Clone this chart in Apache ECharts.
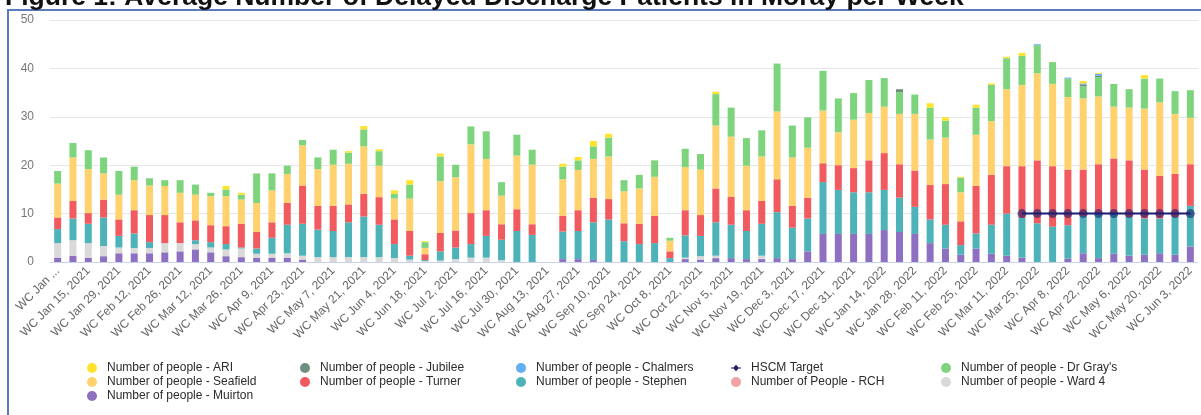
<!DOCTYPE html>
<html>
<head>
<meta charset="utf-8">
<script src="https://cdn.jsdelivr.net/npm/echarts@6/dist/echarts.min.js"></script>
<style>
html,body{margin:0;padding:0;background:#fff;}
#chart{width:1201px;height:415px;}
</style>
</head>
<body>
<div id="chart"></div>
<script>
const categories = [
"WC Jan 1, 2021","WC Jan 8, 2021","WC Jan 15, 2021","WC Jan 22, 2021","WC Jan 29, 2021",
"WC Feb 5, 2021","WC Feb 12, 2021","WC Feb 19, 2021","WC Feb 26, 2021",
"WC Mar 5, 2021","WC Mar 12, 2021","WC Mar 19, 2021","WC Mar 26, 2021",
"WC Apr 2, 2021","WC Apr 9, 2021","WC Apr 16, 2021","WC Apr 23, 2021","WC Apr 30, 2021",
"WC May 7, 2021","WC May 14, 2021","WC May 21, 2021","WC May 28, 2021",
"WC Jun 4, 2021","WC Jun 11, 2021","WC Jun 18, 2021","WC Jun 25, 2021",
"WC Jul 2, 2021","WC Jul 9, 2021","WC Jul 16, 2021","WC Jul 23, 2021","WC Jul 30, 2021",
"WC Aug 6, 2021","WC Aug 13, 2021","WC Aug 20, 2021","WC Aug 27, 2021",
"WC Sep 3, 2021","WC Sep 10, 2021","WC Sep 17, 2021","WC Sep 24, 2021",
"WC Oct 1, 2021","WC Oct 8, 2021","WC Oct 15, 2021","WC Oct 22, 2021","WC Oct 29, 2021",
"WC Nov 5, 2021","WC Nov 12, 2021","WC Nov 19, 2021","WC Nov 26, 2021",
"WC Dec 3, 2021","WC Dec 10, 2021","WC Dec 17, 2021","WC Dec 24, 2021","WC Dec 31, 2021",
"WC Jan 7, 2022","WC Jan 14, 2022","WC Jan 21, 2022","WC Jan 28, 2022",
"WC Feb 4, 2022","WC Feb 11, 2022","WC Feb 18, 2022","WC Feb 25, 2022",
"WC Mar 4, 2022","WC Mar 11, 2022","WC Mar 18, 2022","WC Mar 25, 2022",
"WC Apr 1, 2022","WC Apr 8, 2022","WC Apr 15, 2022","WC Apr 22, 2022","WC Apr 29, 2022",
"WC May 6, 2022","WC May 13, 2022","WC May 20, 2022","WC May 27, 2022",
"WC Jun 3, 2022"
];

const muirton = [0.9,1.3,0.9,1.2,1.8,1.8,1.8,2.0,2.2,2.6,2.0,1.2,1.0,0.9,0.9,0.9,0.5,0,0,0,0,0,0,0,0,0,0,0,0,0,0,0,0,0.6,0.6,0.4,0,0,0,0,0,0.6,0.5,0.8,0.8,0.6,0.6,0.8,0.6,2.2,5.8,5.8,5.8,5.8,6.6,6.2,5.8,3.9,2.8,1.5,2.8,1.7,1.3,0.9,0,0,0.7,1.8,0.8,1.7,1.3,1.5,1.8,1.5,3.2];
const ward4 = [3.0,3.2,3.0,2.1,1.2,1.1,1.1,1.9,1.7,1.1,1.0,1.4,1.8,0.8,0.8,0.9,0.8,1.0,1.0,1.0,1.0,1.0,0.8,0.5,0.2,0.3,0.6,0.9,0.9,0.4,0,0,0,0,0,0,0,0,0,0,0,0.3,0.7,0.5,0,0,0.7,0,0,0,0,0,0,0,0,0,0,0,0,0,0,0,0,0,0,0,0,0,0,0,0,0,0,0,0];
const stephen = [2.9,4.5,4.0,5.9,2.4,3.0,1.2,0,0,0.8,1.1,1.1,0.2,1.1,3.3,5.9,6.6,5.7,5.4,7.2,8.4,6.7,2.9,0.8,0.2,1.9,2.4,2.8,4.5,4.2,6.4,5.6,0,5.7,5.8,7.8,8.8,4.3,3.7,3.9,0.8,4.6,4.2,6.9,6.9,5.8,6.6,9.5,6.5,6.8,10.7,9.1,8.6,8.6,8.3,7.1,5.6,4.9,4.9,2.0,3.1,6.0,8.7,8.2,8.0,7.3,6.9,7.7,9.2,8.3,8.0,7.5,7.2,7.8,8.4];
const turner = [2.4,3.6,2.2,3.7,3.4,4.8,5.6,5.8,4.3,4.1,3.5,3.7,4.9,3.4,3.2,4.5,7.9,4.9,5.2,3.7,4.7,5.7,5.1,5.1,1.2,3.8,3.5,6.4,5.3,3.2,4.5,2.2,0,3.2,4.3,5.1,4.2,3.7,4.2,5.6,1.4,5.2,4.3,7.0,5.8,4.3,4.7,6.8,4.5,4.3,3.9,5.1,5.0,6.6,7.6,6.9,7.5,7.1,8.4,4.9,9.8,10.3,9.8,10.7,13.0,12.5,11.5,9.6,10.2,11.4,11.7,10.1,8.8,8.9,8.6];
const rch = [0,0,0,0,0,0,0,0,0,0,0,0,0,0,0,0,0,0,0,0,0,0,0,0,0,0,0,0,0,0,0,0,0,0,0,0,0,0,0,0,0,0,0,0,0,0,0,0,0,0,0,0,0,0,0,0,0,0,0,0,0,0,0,0,0,0,0,0,0,0,0,0,0,0,0];
const seafield = [7.0,9.0,9.1,5.4,5.1,6.2,6.1,6.0,6.1,5.3,6.0,6.2,5.0,6.0,6.6,6.0,8.3,7.6,8.5,8.4,9.8,6.5,4.3,6.7,1.3,10.7,11.0,14.2,10.6,5.9,11.1,12.3,0,7.6,8.3,8.0,8.8,6.6,7.3,8.1,2.2,8.9,9.4,13.0,12.4,9.2,9.2,14.0,10.0,10.3,10.9,6.8,10.0,9.8,9.6,10.4,11.7,9.4,9.6,6.0,10.6,11.1,15.9,16.8,18.0,17.0,15.0,14.7,14.0,10.7,10.9,12.6,15.2,12.4,9.6];
const drGrays = [2.6,3.0,3.9,3.3,4.9,2.8,1.5,1.2,2.6,2.1,0.7,1.4,1.0,6.1,3.5,1.7,1.1,2.4,3.1,2.3,3.5,3.0,1.0,2.9,1.2,5.1,2.6,3.7,5.7,2.8,4.3,3.1,0,2.6,2.0,2.6,3.9,2.3,2.8,3.4,0.6,3.8,3.2,6.5,6.0,5.7,5.4,9.9,6.6,6.3,8.2,7.0,5.5,6.8,5.9,4.5,4.0,6.6,3.5,3.0,5.6,7.5,6.4,6.0,5.8,4.5,3.8,2.5,4.0,4.7,3.8,6.2,4.9,4.7,5.7];
const jubilee = [0,0,0,0,0,0,0,0,0,0,0,0,0,0,0,0,0,0,0,0,0,0,0,0,0,0,0,0,0,0,0,0,0,0,0,0,0,0,0,0,0,0,0,0,0,0,0,0,0,0,0,0,0,0,0,0.6,0,0,0,0,0,0,0,0,0,0,0,0.4,0.3,0,0,0,0,0,0];
const chalmers = [0,0,0,0,0,0,0,0,0,0,0,0,0,0,0,0,0,0,0,0,0,0,0,0,0,0,0,0,0,0,0,0,0,0,0,0,0,0,0,0,0,0,0,0,0,0,0,0,0,0,0,0,0,0,0,0,0,0,0,0,0,0,0,0,0.2,0,0.2,0.2,0.4,0,0,0,0,0,0];
const ari = [0,0,0,0,0,0,0,0,0,0,0,0.7,0.4,0,0,0,0,0,0,0.3,0.7,0.4,0.7,0.9,0.2,0.6,0,0,0,0,0,0,0,0.6,0.7,1.1,0.8,0,0,0,0,0,0,0.5,0,0,0,0,0,0,0,0,0,0,0,0,0,0.9,0.7,0.2,0.6,0.3,0.3,0.6,0,0,0,0.5,0.2,0,0,0.7,0,0,0];
const hscmTarget = [null,null,null,null,null,null,null,null,null,null,null,null,null,null,null,null,null,null,null,null,null,null,null,null,null,null,null,null,null,null,null,null,null,null,null,null,null,null,null,null,null,null,null,null,null,null,null,null,null,null,null,null,null,null,null,null,null,null,null,null,null,null,null,10,10,10,10,10,10,10,10,10,10,10,10];
const yTicks = [0,10,20,30,40,50];

const names = {
  ari: "Number of people - ARI",
  jubilee: "Number of people - Jubilee",
  chalmers: "Number of people - Chalmers",
  target: "HSCM Target",
  drGrays: "Number of people - Dr Gray's",
  seafield: "Number of people - Seafield",
  turner: "Number of people - Turner",
  stephen: "Number of people - Stephen",
  rch: "Number of People - RCH",
  ward4: "Number of people - Ward 4",
  muirton: "Number of people - Muirton"
};
const colors = {
  ari: "#FFE22E", jubilee: "#6F8E7C", chalmers: "#62AEF4", target: "#1C1C70",
  drGrays: "#7DD47C", seafield: "#FFD26E", turner: "#F15A5E", stephen: "#4DB3B8",
  rch: "#F3A3A3", ward4: "#D9D9D9", muirton: "#8E70C1"
};

function bar(key, data) {
  return {
    name: names[key], type: 'bar', stack: 'total', data: data, barWidth: 7,
    itemStyle: { color: colors[key] }, emphasis: { disabled: true }
  };
}

const chart = echarts.init(document.getElementById('chart'), null, { renderer: 'canvas' });
const legendText = { fontSize: 12, color: '#2b2b2b', padding: [0, 0, 0, 5], fontFamily: 'Liberation Sans, Arial, sans-serif' };
function legendCol(left, items) {
  return {
    orient: 'vertical', left: left, top: 362, itemGap: 2, itemWidth: 10, itemHeight: 12,
    icon: 'circle', textStyle: legendText, padding: 0, selectedMode: false,
    data: items
  };
}

chart.setOption({
  animation: false,
  graphic: [
    { type: 'rect', shape: { x: 8, y: 10, width: 1200, height: 420 },
      style: { fill: 'none', stroke: '#5B7BBF', lineWidth: 2 }, silent: true },
    { type: 'text', left: 5, top: -16,
      style: { text: 'Figure 1: Average Number of Delayed Discharge Patients in Moray per Week',
        font: 'bold 26.5px "Liberation Sans", Arial, sans-serif', fill: '#111' } }
  ],
  grid: { left: 50, right: 3, top: 20, bottom: 153 },
  legend: [
    legendCol(87, [names.ari, names.seafield, names.muirton]),
    legendCol(300, [names.jubilee, names.turner]),
    legendCol(516, [names.chalmers, names.stephen]),
    legendCol(731, [{ name: names.target,
      icon: 'path://M0,3.4 L3,3.4 L6,0 L9,3.4 L12,3.4 L12,4.6 L9,4.6 L6,8 L3,4.6 L0,4.6 Z',
      itemStyle: { color: colors.target, opacity: 1 } }, names.rch]),
    legendCol(941, [names.drGrays, names.ward4])
  ],
  xAxis: {
    type: 'category', data: categories,
    axisTick: { show: false },
    axisLine: { lineStyle: { color: '#C9D2EA', width: 1 } },
    axisLabel: {
      interval: 1, rotate: 45, fontSize: 12, color: '#666', margin: 7,
      fontFamily: 'Liberation Sans, Arial, sans-serif',
      formatter: function (v, i) { return i === 0 ? 'WC Jan ...' : v; }
    }
  },
  yAxis: {
    type: 'value', min: yTicks[0], max: yTicks[yTicks.length - 1], interval: 10,
    axisLine: { show: false }, axisTick: { show: false },
    splitLine: { lineStyle: { color: '#E6E6E6' } },
    axisLabel: { color: '#777', fontSize: 12, margin: 16, fontFamily: 'Liberation Sans, Arial, sans-serif' }
  },
  series: [
    bar('muirton', muirton),
    bar('ward4', ward4),
    bar('stephen', stephen),
    bar('turner', turner),
    bar('rch', rch),
    bar('seafield', seafield),
    bar('drGrays', drGrays),
    bar('jubilee', jubilee),
    bar('chalmers', chalmers),
    bar('ari', ari),
    {
      name: names.target, type: 'line', data: hscmTarget, z: 5,
      symbol: 'circle', symbolSize: 9, showSymbol: true,
      lineStyle: { color: colors.target, width: 2 },
      itemStyle: { color: colors.target, opacity: 0.6 }
    }
  ]
});
</script>
</body>
</html>
